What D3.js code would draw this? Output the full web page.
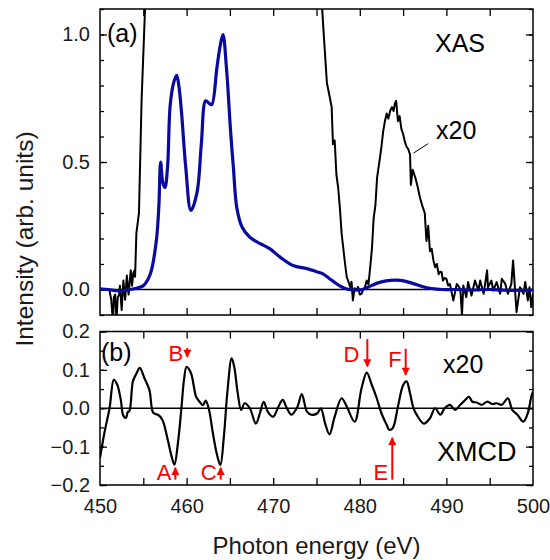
<html>
<meta charset="utf-8">
<head>
<title>XAS / XMCD</title>
<script src="https://d3js.org/d3.v7.min.js"></script>
<style>
  body { margin: 0; background: #fff; }
  text { font-family: "Liberation Sans", Arial, sans-serif; }
</style>
</head>
<body>
<div id="mychart"></div>
<script>

// ---- data ----
// XAS, blue curve
var xasEnergy = [450, 451, 452, 453, 453.8, 454.5, 455, 455.8, 456.5, 456.8, 457.0, 457.25, 457.5, 457.8, 458.1, 458.5, 458.85, 459.1, 459.4, 459.9, 460.5, 461.2, 461.7, 462.2, 462.6, 462.9, 463.5, 463.9, 464.2, 464.6, 465.1, 465.4, 465.8, 466.4, 467.3, 468.5, 469.6, 470.8, 472.3, 473.9, 475.0, 475.7, 476.4, 477.0, 477.8, 478.5, 479.5, 480.3, 481.0, 482.0, 483.0, 484.2, 485.2, 486.2, 487.2, 488.3, 489.5, 491, 493, 495, 497, 500];
var xasValue = [0.003, 0.0, -0.005, -0.003, 0.002, 0.008, 0.015, 0.06, 0.19, 0.33, 0.5, 0.42, 0.40, 0.48, 0.72, 0.81, 0.84, 0.8, 0.7, 0.48, 0.31, 0.38, 0.57, 0.74, 0.73, 0.725, 0.87, 0.96, 1.0, 0.87, 0.61, 0.48, 0.32, 0.245, 0.205, 0.18, 0.16, 0.127, 0.094, 0.082, 0.07, 0.062, 0.045, 0.03, 0.012, 0.002, -0.002, 0.0, 0.01, 0.025, 0.034, 0.037, 0.033, 0.023, 0.012, 0.004, 0.0, 0.0, -0.002, 0.0, -0.003, -0.002];

// XAS x20, black curve (null = off scale)
var x20Energy = [450.9, 451.1, 451.3, 451.5, 451.6, 451.75, 451.9, 452.05, 452.2, 452.3, 452.5, 452.7, 452.9, 453.1, 453.3, 453.55, 453.7, 453.85, 454.0, 454.05, 454.2, 454.5, 454.8, 455.2, 455.4, 465,
  475.3, 475.8, 476.2, 476.5, 476.75, 476.9, 477.1, 477.3, 477.5, 477.7, 477.9, 478.1, 478.3, 478.5, 478.7, 478.9, 479.05, 479.2, 479.4, 479.6, 479.8, 480.0, 480.2, 480.4, 480.6, 480.8, 481.0, 481.2, 481.4, 481.6, 481.8, 482.0, 482.3, 482.5, 482.7, 482.9, 483.1, 483.3, 483.5, 483.7, 483.9, 484.05, 484.2, 484.4, 484.6, 484.8, 485.0, 485.2, 485.4, 485.6, 485.8, 485.9, 486.1, 486.4, 486.7, 486.95, 487.2, 487.5, 487.7, 487.9, 488.1, 488.3, 488.5, 488.7, 488.9, 489.1, 489.3, 489.45, 489.6, 489.8, 490.0, 490.2,
  490.4, 490.8, 491.2, 491.6, 491.8, 491.95, 492.3, 492.5, 492.9, 493.3, 493.7, 493.9, 494.3, 494.7, 494.8, 495.2, 495.4, 495.8, 496.2, 496.4, 496.8, 497.1, 497.5, 497.7, 498.1, 498.5, 498.9, 499.1, 499.4, 499.6, 499.8, 500.0];
var x20Value = [0.0, -0.005, -0.04, -0.13, -0.03, -0.02, -0.12, -0.03, -0.02, 0.015, -0.08, 0.035, -0.04, 0.055, -0.02, 0.075, 0.015, 0.065, 0.075, 0.05, 0.22, 0.30, 0.74, 1.1, 1.4, null,
  1.3, 1.02, 0.81, 0.76, 0.715, 0.57, 0.585, 0.45, 0.40, 0.32, 0.22, 0.16, 0.10, 0.048, 0.03, 0.009, 0.03, -0.043, 0.005, -0.004, 0.01, -0.02, -0.017, 0.0, 0.01, 0.035, 0.02, 0.087, 0.16, 0.28, 0.33, 0.44, 0.51, 0.56, 0.62, 0.66, 0.69, 0.67, 0.70, 0.715, 0.70, 0.73, 0.74, 0.66, 0.68, 0.63, 0.61, 0.58, 0.56, 0.55, 0.53, 0.41, 0.47, 0.44, 0.40, 0.36, 0.33, 0.30, 0.19, 0.25, 0.15, 0.16, 0.114, 0.087, 0.1, 0.06, 0.07, 0.068, 0.035, 0.045, 0.042, 0.016,
  0.022, -0.043, 0.022, 0.003, -0.10, 0.016, -0.03, 0.029, -0.024, 0.035, -0.004, 0.035, -0.017, 0.075, 0.009, 0.035, -0.004, 0.029, -0.017, 0.042, 0.022, -0.017, 0.022, 0.114, -0.089, 0.009, -0.017, 0.029, -0.043, 0.009, -0.069, -0.017];

// XMCD x20
var xmcdEnergy = [450.0, 450.5, 451.1, 451.6, 452.0, 452.4, 452.7, 453.0, 453.2, 453.4, 453.8, 454.2, 454.6, 455.1, 455.7, 456.1, 456.4, 456.7, 457.2, 457.8, 458.3, 458.6, 459.0, 459.4, 459.7, 460.0, 460.5, 461.1, 461.5, 461.9, 462.2, 462.6, 463.0, 463.5, 463.9, 464.3, 464.7, 465.2, 465.5, 465.9, 466.3, 466.7, 467.3, 468.0, 468.5, 468.9, 469.4, 470.0, 470.6, 471.1, 471.5, 472.1, 472.8, 473.3, 473.9, 474.4, 475.1, 475.5, 476.0, 476.5, 477.1, 477.9, 478.5, 479.4, 480.2, 480.8, 481.4, 481.9, 482.5, 483.1, 483.4, 483.8, 484.4, 485.0, 485.4, 485.8, 486.2, 486.7, 487.4, 488.1, 488.7, 489.3, 489.8, 490.4, 491.0, 491.6, 492.2, 492.6, 493.0, 493.5, 494.1, 494.7, 495.3, 495.8, 496.4, 497.1, 497.6, 498.2, 498.9, 499.4, 499.8, 500.0];
var xmcdValue = [-0.13, -0.065, 0.0, 0.074, 0.061, 0.022, -0.02, -0.025, -0.01, -0.007, 0.07, 0.09, 0.105, 0.08, 0.048, -0.01, -0.015, -0.017, -0.03, -0.08, -0.128, -0.147, -0.09, 0.0, 0.074, 0.108, 0.092, 0.03, 0.017, 0.008, 0.02, -0.005, -0.06, -0.12, -0.148, -0.075, 0.04, 0.13, 0.108, 0.04, -0.005, 0.013, 0.0, -0.04, -0.01, 0.017, -0.01, -0.022, 0.004, 0.022, 0.004, -0.017, 0.004, 0.037, -0.009, -0.017, -0.013, 0.0, -0.04, -0.068, -0.022, 0.026, 0.004, -0.035, 0.052, 0.093, 0.06, 0.03, -0.013, -0.043, -0.056, -0.052, 0.004, 0.06, 0.07, 0.039, 0.0, -0.022, -0.04, -0.026, 0.0, -0.017, 0.0, 0.009, -0.004, 0.009, 0.022, 0.03, 0.017, 0.015, 0.009, 0.017, 0.011, 0.013, 0.009, 0.026, -0.004, -0.017, -0.035, -0.013, 0.03, 0.043];

// tick labels
var energyLabels = [450, 460, 470, 480, 490, 500];
var xasLabels = [0.0, 0.5, 1.0];
var xmcdLabels = [-0.2, -0.1, 0.0, 0.1, 0.2];

// red markers in (b): arrow x, arrow tail, arrow tip
var markName = ["A", "B", "C", "D", "E", "F"];
var markEnergy = [458.7, 460.08, 463.94, 480.87, 483.75, 485.3];
var markTail = [-0.186, 0.157, -0.186, 0.18, -0.186, 0.155];
var markTip = [-0.155, 0.134, -0.155, 0.109, -0.077, 0.087];
var markTextY = [-0.186, 0.124, -0.186, 0.121, -0.186, 0.108];

// ---- layout ----
var width = 550, height = 560;
var left = 100, right = 533;
var topA = 9, botA = 315;
var topB = 331.5, botB = 485;

var svg = d3.select("#mychart").append("svg")
  .attr("width", width)
  .attr("height", height);

var x = d3.scaleLinear().domain([450, 500]).range([left, right]);
var yA = d3.scaleLinear().domain([-0.1, 1.1]).range([botA, topA]);
var yB = d3.scaleLinear().domain([-0.2, 0.2]).range([botB, topB]);

var defs = svg.append("defs");
defs.append("clipPath").attr("id", "clipA").append("rect")
  .attr("x", left).attr("y", topA).attr("width", right - left).attr("height", botA - topA);
defs.append("clipPath").attr("id", "clipB").append("rect")
  .attr("x", left).attr("y", topB).attr("width", right - left).attr("height", botB - topB);
defs.append("marker").attr("id", "head")
  .attr("viewBox", "0 0 10 10").attr("refX", 9).attr("refY", 5)
  .attr("markerWidth", 4.5).attr("markerHeight", 4).attr("orient", "auto")
  .append("path").attr("d", "M0,0 L10,5 L0,10 z").attr("fill", "#ff0000");

function range(a, b, s) {
  var out = [];
  for (var v = a; v <= b + 1e-9; v += s) out.push(+v.toFixed(3));
  return out;
}

// draws frame + ticks on all four sides of one panel
function panel(y, top, bot, yMinor, yMajor, showX) {
  var g = svg.append("g");

  // minor ticks
  g.append("g").attr("transform", "translate(" + left + ",0)")
    .call(d3.axisLeft(y).tickValues(yMinor).tickSize(-4).tickFormat(""));
  g.append("g").attr("transform", "translate(" + right + ",0)")
    .call(d3.axisRight(y).tickValues(yMinor).tickSize(-4).tickFormat(""));

  // major left with labels
  g.append("g").attr("class", "ylab").attr("transform", "translate(" + left + ",0)")
    .call(d3.axisLeft(y).tickValues(yMajor).tickSize(-7).tickPadding(10).tickFormat(d3.format(".1f")));
  g.append("g").attr("transform", "translate(" + right + ",0)")
    .call(d3.axisRight(y).tickValues(yMajor).tickSize(-7).tickFormat(""));

  // x ticks every 5 eV, top and bottom
  g.append("g").attr("transform", "translate(0," + top + ")")
    .call(d3.axisTop(x).tickValues(range(455, 495, 5)).tickSize(-7).tickFormat(""));
  g.append("g").attr("transform", "translate(0," + bot + ")")
    .call(d3.axisBottom(x).tickValues(range(455, 495, 5)).tickSize(-7).tickFormat(""));
  if (showX) {
    g.append("g").attr("transform", "translate(0," + bot + ")")
      .call(d3.axisBottom(x).tickValues(energyLabels).tickSize(0).tickPadding(14).tickFormat(d3.format("d")));
  }

  g.selectAll(".domain").remove();
  g.selectAll(".tick line").attr("stroke", "#000").attr("stroke-width", 1.3);
  g.selectAll(".tick text").attr("fill", "#1a1a1a").style("font-size", "20px");

  // frame
  g.append("rect")
    .attr("x", left).attr("y", top)
    .attr("width", right - left).attr("height", bot - top)
    .attr("fill", "none").attr("stroke", "#000").attr("stroke-width", 1.5);

  // zero line
  g.append("line")
    .attr("x1", left).attr("x2", right)
    .attr("y1", y(0)).attr("y2", y(0))
    .attr("stroke", "#000").attr("stroke-width", 1.6);
  return g;
}

panel(yA, topA, botA, range(-0.1, 1.1, 0.1), xasLabels, false);
panel(yB, topB, botB, range(-0.2, 0.2, 0.05), xmcdLabels, true);

// ---- curves ----
var lineA = d3.line()
  .defined(function(d) { return d[1] !== null; })
  .x(function(d) { return x(d[0]); })
  .y(function(d) { return yA(d[1]); });

var blueLine = d3.line()
  .x(function(d) { return x(d[0]); })
  .y(function(d) { return yA(d[1]); })
  .curve(d3.curveCatmullRom);

var lineB = d3.line()
  .x(function(d) { return x(d[0]); })
  .y(function(d) { return yB(d[1]); })
  .curve(d3.curveCatmullRom);

var curvesA = svg.append("g").attr("clip-path", "url(#clipA)");
curvesA.append("path")
  .datum(x20Energy.map(function(e, i) { return [e, x20Value[i]]; }))
  .attr("d", lineA)
  .attr("fill", "none").attr("stroke", "#000").attr("stroke-width", 2)
  .attr("stroke-linejoin", "round");

curvesA.append("path")
  .datum(xasEnergy.map(function(e, i) { return [e, xasValue[i]]; }))
  .attr("d", blueLine)
  .attr("fill", "none").attr("stroke", "#0a0aa0").attr("stroke-width", 3.2)
  .attr("stroke-linejoin", "round");

svg.append("g").attr("clip-path", "url(#clipB)")
  .append("path")
  .datum(xmcdEnergy.map(function(e, i) { return [e, xmcdValue[i]]; }))
  .attr("d", lineB)
  .attr("fill", "none").attr("stroke", "#000").attr("stroke-width", 2.2)
  .attr("stroke-linejoin", "round");

// ---- labels ----
function label(tx, ty, s, size) {
  return svg.append("text").attr("x", tx).attr("y", ty).text(s)
    .style("font-size", size + "px").attr("fill", "#000");
}
label(left + 7, 42, "(a)", 25);
label(435, 52, "XAS", 25);
label(436, 139, "x20", 25);
svg.append("line")
  .attr("x1", x(486.2)).attr("y1", yA(0.535))
  .attr("x2", x(487.9)).attr("y2", yA(0.572))
  .attr("stroke", "#000").attr("stroke-width", 1);

label(left + 1, 361, "(b)", 25);
label(443, 373, "x20", 25);
label(437, 461, "XMCD", 27);

// red markers
var marks = svg.append("g");
markName.forEach(function(n, i) {
  marks.append("line")
    .attr("x1", x(markEnergy[i])).attr("x2", x(markEnergy[i]))
    .attr("y1", yB(markTail[i])).attr("y2", yB(markTip[i]))
    .attr("stroke", "#ff0000").attr("stroke-width", 2)
    .attr("marker-end", "url(#head)");
  marks.append("text")
    .attr("x", x(markEnergy[i]) - (n == "D" ? 8 : 4))
    .attr("y", yB(markTextY[i]))
    .attr("text-anchor", "end")
    .style("font-size", "22px")
    .attr("fill", "#ff0000")
    .text(n);
});

// axis titles
svg.append("text")
  .attr("x", (left + right) / 2).attr("y", 554)
  .attr("text-anchor", "middle")
  .style("font-size", "24px").attr("fill", "#1a1a1a")
  .text("Photon energy (eV)");

svg.append("text")
  .attr("transform", "translate(33,239) rotate(-90)")
  .attr("text-anchor", "middle")
  .style("font-size", "24.5px").attr("fill", "#1a1a1a")
  .text("Intensity (arb. units)");

</script>
</body>
</html>
